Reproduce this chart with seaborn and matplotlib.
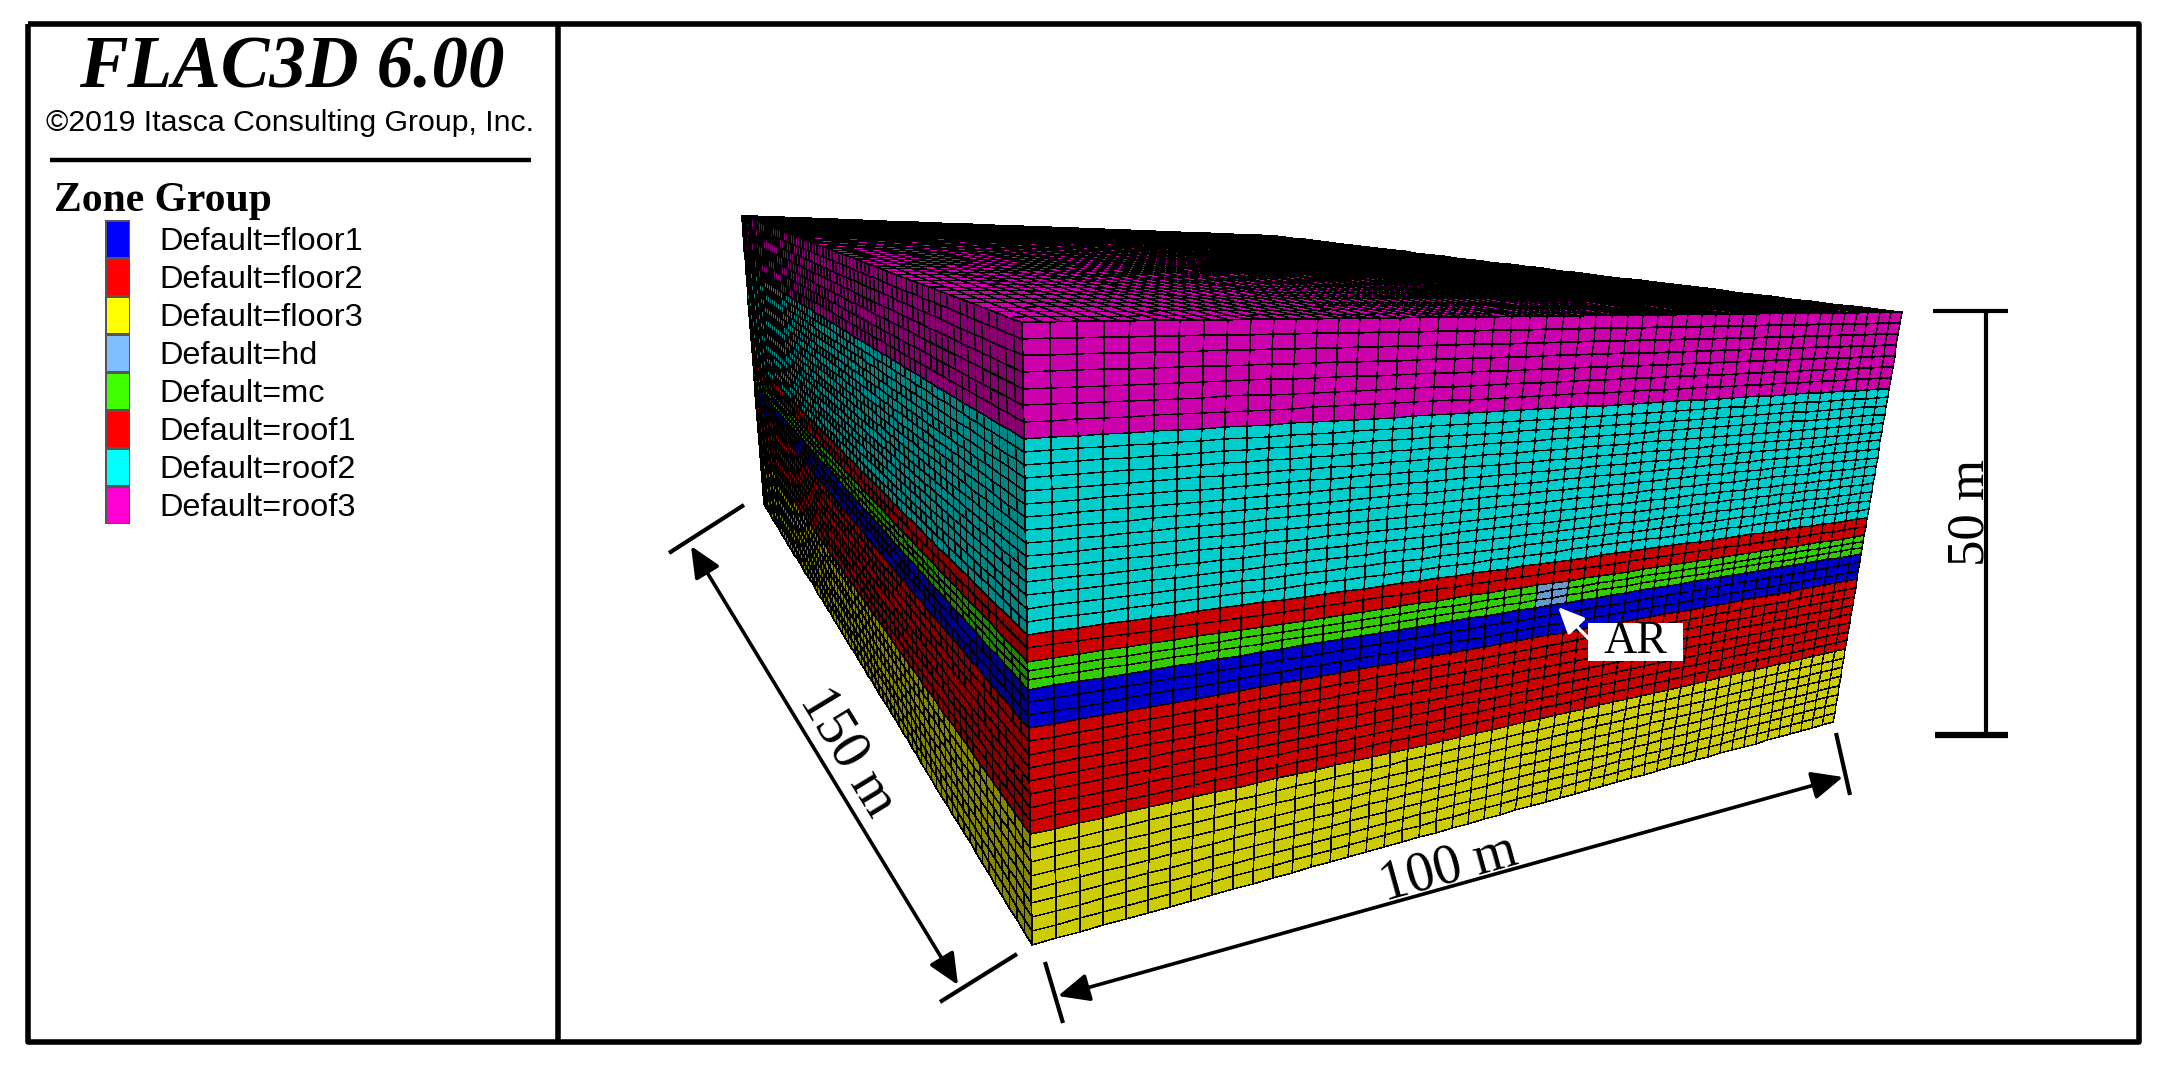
import numpy as np
import matplotlib
matplotlib.use('Agg')
import matplotlib.pyplot as plt
from matplotlib.colors import ListedColormap, to_rgb
from matplotlib.patches import Rectangle
import seaborn as sns

# legend
GROUPS = ['floor1', 'floor2', 'floor3', 'hd', 'mc', 'roof1', 'roof2', 'roof3']
COLORS = ['#0000FF', '#FF0000', '#FFFF00', '#80BFFF', '#40FF00', '#FF0000', '#00FFFF', '#FF00D4']

# model, top to bottom (m)
LAYERS = ['roof3', 'roof2', 'roof1', 'mc', 'floor1', 'floor2', 'floor3']
THICKNESS = [9.35, 15.75, 2.15, 2.25, 3.1, 8.5, 8.9]
ROWS = [7, 15, 2, 3, 3, 8, 8]

LENGTH_X = 100
LENGTH_Y = 150
ZONES_X = 50
ZONES_Y = 75
HD_X = [50, 54]

# where the block corners land on the page
FRONT = [(1022, 322), (1902, 312), (1833, 722), (1032, 945)]
LEFT = [(741, 215), (1022, 322), (1032, 945), (763, 503)]
TOP = [(741, 215), (1272, 235), (1902, 312), (1022, 322)]

SERIF = 'Liberation Serif'
SANS = 'Liberation Sans'

sns.set_style('white')
plt.rcParams['text.color'] = 'k'


def homography(quad):
    src = [(0, 0), (1, 0), (1, 1), (0, 1)]
    a = []
    b = []
    for (u, v), (x, y) in zip(src, quad):
        a.append([u, v, 1, 0, 0, 0, -u * x, -v * x])
        a.append([0, 0, 0, u, v, 1, -u * y, -v * y])
        b += [x, y]
    return np.append(np.linalg.solve(np.array(a, float), np.array(b, float)), 1).reshape(3, 3)


def project(h, uu, vv):
    w = h[2, 0] * uu + h[2, 1] * vv + h[2, 2]
    xx = (h[0, 0] * uu + h[0, 1] * vv + h[0, 2]) / w
    yy = (h[1, 0] * uu + h[1, 1] * vv + h[1, 2]) / w
    return xx, yy


def face_mesh(quad, u, v, straight_depth=True):
    h = homography(quad)
    uu, vv = np.meshgrid(u, v)
    if not straight_depth:
        return project(h, uu, vv)
    # layers keep the same share of the height along every vertical edge
    x0, y0 = project(h, uu, np.zeros_like(vv))
    x1, y1 = project(h, uu, np.ones_like(vv))
    return x0 + vv * (x1 - x0), y0 + vv * (y1 - y0)


def depth_edges():
    tops = np.concatenate([[0], np.cumsum(THICKNESS)])
    edges = [np.linspace(tops[i], tops[i + 1], ROWS[i], endpoint=False) for i in range(len(ROWS))]
    return np.append(np.concatenate(edges), tops[-1]) / tops[-1]


def layer_cells(n_cols):
    codes = [GROUPS.index(name) for name in LAYERS]
    return np.repeat(np.array(codes), ROWS)[:, None].repeat(n_cols, axis=1)


def shaded(factor):
    return ListedColormap([tuple(c * factor for c in to_rgb(col)) for col in COLORS])


def draw_face(ax, quad, u, v, cells, factor, lw, straight_depth=True):
    xx, yy = face_mesh(quad, u, v, straight_depth)
    ax.pcolormesh(xx, yy, cells, cmap=shaded(factor), vmin=-0.5, vmax=len(COLORS) - 0.5,
                  edgecolors='k', linewidth=lw, antialiased=False, shading='flat')


def line(ax, xs, ys, lw=3, color='k'):
    sns.lineplot(x=xs, y=ys, sort=False, estimator=None, color=color, linewidth=lw, ax=ax,
                 legend=False, solid_capstyle='butt')


def arrow(ax, start, end, color='k', style='<|-|>', lw=2.6, scale=19):
    ax.annotate('', xy=end, xytext=start,
                arrowprops=dict(arrowstyle=f'{style},head_length=1,head_width=0.45', color=color,
                                lw=lw, mutation_scale=scale, shrinkA=0, shrinkB=0))


fig = plt.figure(figsize=(21.68, 10.82), dpi=100)
ax = fig.add_axes([0, 0, 1, 1])

# block
x_edges = np.linspace(0, 1, ZONES_X + 1)
y_edges = np.linspace(0, 1, ZONES_Y + 1)
z_edges = depth_edges()

draw_face(ax, LEFT, y_edges, z_edges, layer_cells(ZONES_Y), 0.52, 0.38)
draw_face(ax, TOP, y_edges, x_edges, np.full((ZONES_X, ZONES_Y), GROUPS.index('roof3')), 0.8, 0.38,
          straight_depth=False)

front_cells = layer_cells(ZONES_X)
mid = (x_edges[:-1] + x_edges[1:]) / 2 * LENGTH_X
mc_row = sum(ROWS[:LAYERS.index('mc')])
in_hd = (mid > HD_X[0]) & (mid < HD_X[1])
front_cells[mc_row:mc_row + ROWS[LAYERS.index('mc')], in_hd] = GROUPS.index('hd')
draw_face(ax, FRONT, x_edges, z_edges, front_cells, 0.8, 0.3)

# frame
line(ax, [28, 2139, 2139, 28, 28], [24, 24, 1042, 1042, 24], lw=4)
line(ax, [558, 558], [24, 1042], lw=4)
line(ax, [50, 531], [160, 160], lw=3.2)

# dimensions
line(ax, [669, 744], [553, 505], lw=3)
line(ax, [940, 1017], [1002, 954], lw=3)
arrow(ax, (691, 546), (958, 985))
ax.text(848, 752, '150 m', family=SERIF, fontsize=40, rotation=-58.7, rotation_mode='anchor',
        ha='center', va='center')

line(ax, [1045, 1063], [962, 1023], lw=3)
line(ax, [1836, 1850], [733, 795], lw=3)
arrow(ax, (1058, 996), (1843, 777))
ax.text(1449, 868, '100 m', family=SERIF, fontsize=40, rotation=15.5, rotation_mode='anchor',
        ha='center', va='center')

line(ax, [1933, 2008], [311, 311], lw=3)
line(ax, [1935, 2008], [735, 735], lw=4.5)
line(ax, [1986, 1986], [311, 735], lw=3)
ax.text(1970, 512, '50 m', family=SERIF, fontsize=38, rotation=90, ha='center', va='center')

# AR label
ax.add_patch(Rectangle((1588, 623), 95, 38, facecolor='w', edgecolor='none', zorder=4))
arrow(ax, (1592, 642), (1558, 607), color='w', style='-|>', lw=2.4, scale=16)
ax.text(1635.5, 642, 'AR', family=SERIF, fontsize=33, ha='center', va='center', zorder=5)

# header
ax.text(292, 70, 'FLAC3D 6.00', family=SERIF, fontsize=52.5, weight='bold', style='italic',
        ha='center', va='center')
ax.text(290, 123, '\u00a92019 Itasca Consulting Group, Inc.', family=SANS, fontsize=21.8,
        ha='center', va='center')
ax.text(54, 201, 'Zone Group', family=SERIF, fontsize=30, weight='bold', ha='left', va='center')

ax.set_xlim(0, 2168)
ax.set_ylim(1082, 0)
ax.set_xlabel('')
ax.set_ylabel('')
ax.axis('off')

# legend swatches
lax = fig.add_axes([105 / 2168, 1 - 524 / 1082, 25 / 2168, 304 / 1082])
sns.heatmap(np.arange(len(GROUPS)).reshape(-1, 1), cmap=ListedColormap(COLORS), cbar=False,
            xticklabels=False, yticklabels=[f'Default={g}' for g in GROUPS],
            linewidths=0.8, linecolor='#555555', ax=lax)
lax.yaxis.tick_right()
lax.tick_params(axis='y', length=0, pad=21, labelrotation=0, labelcolor='k')
for label in lax.get_yticklabels():
    label.set_fontfamily(SANS)
    label.set_fontsize(23.4)

fig.savefig('out.png', dpi=100, facecolor='w')
